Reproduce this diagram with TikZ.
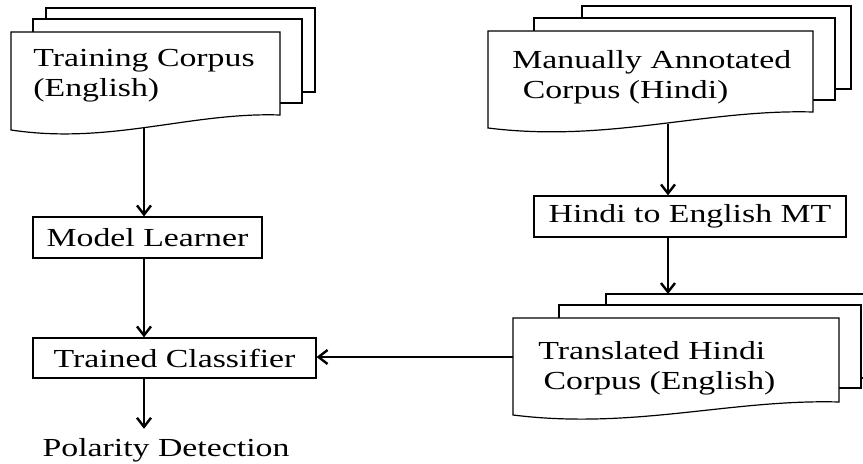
\documentclass[tikz,border=0pt]{standalone}
\usepackage{fontspec}
\setmainfont{Liberation Serif}
\usetikzlibrary{arrows.meta}
\tikzset{>={Straight Barb[length=4.5pt,width=7pt]}}
\newcommand{\wide}[1]{\scalebox{1.3}[1]{#1}}

\begin{document}
\begin{tikzpicture}[x=0.5pt, y=-0.5pt,
		sheet/.style={draw, fill=white, line width=0.6pt},
		box/.style={draw, line width=0.6pt, inner sep=0pt},
		flow/.style={->, line width=1.2pt},
		lbl/.style={inner sep=0pt, font=\fontsize{13}{15}\selectfont}]
		% page area
		\clip (0,0) rectangle (863,464);
		\fill[white] (0,0) rectangle (863,464);

		% training corpus stack
		\draw[sheet] (46,8) rectangle (315,92);
		\draw[sheet] (33,19) rectangle (302,103);
		\draw[sheet] (11,32) -- (280,32) -- (280,115) .. controls (190,112) and (110,145) .. (11,130) -- cycle;
		\node[lbl, anchor=base west] (train) at (33,97) {\wide{\begin{tabular}[b]{@{}l@{}}Training Corpus\\(English)\end{tabular}}};
		\coordinate (trainout) at (144,128);

		% annotated hindi stack
		\draw[sheet] (582,6) rectangle (851,89);
		\draw[sheet] (534,18) rectangle (835,100);
		\draw[sheet] (488,31) -- (813,31) -- (813,112) .. controls (705,109) and (608,143) .. (488,128) -- cycle;
		\node[lbl, anchor=base west] (hindi) at (512,99) {\wide{\begin{tabular}[b]{@{}l@{}}Manually Annotated\\\hspace{4pt}Corpus (Hindi)\end{tabular}}};
		\coordinate (hindiout) at (668,124);

		% translation step
		\node[box, lbl, draw, minimum width=156pt, minimum height=20.5pt] (mt) at (690,216.5) {\wide{Hindi to English MT}};

		% translated stack
		\draw[sheet] (606,294) rectangle (932,378);
		\draw[sheet] (559,305) rectangle (861,388);
		\draw[sheet] (513,318) -- (839,318) -- (839,402) .. controls (731,399) and (633,430) .. (513,415) -- cycle;
		\node[lbl, anchor=base west] (trans) at (538,390) {\wide{\begin{tabular}[b]{@{}l@{}}Translated Hindi\\\hspace{2pt}Corpus (English)\end{tabular}}};
		\coordinate (transin) at (668,294);
		\coordinate (transout) at (513,357);

		% left column
		\node[box, lbl, draw, minimum width=114.5pt, minimum height=20.5pt] (learner) at (147.5,237.5) {\wide{Model Learner}};
		\node[box, lbl, draw, minimum width=141.5pt, minimum height=20pt] (classifier) at (174.5,358) {\wide{Trained Classifier}};
		\node[lbl, inner ysep=4.5pt] (polarity) at (166,450) {\wide{Polarity Detection}};
		\coordinate (spine) at (144,0);

		% connectors
		\draw[flow] (trainout) -- (learner.north -| trainout);
		\draw[flow] (learner.south -| spine) -- (classifier.north -| spine);
		\draw[flow] (classifier.south -| spine) -- (polarity.north -| spine);
		\draw[flow] (hindiout) -- (mt.north -| hindiout);
		\draw[flow] (mt.south -| hindiout) -- (transin);
		\draw[flow] (transout) -- (classifier.east |- transout);
	\end{tikzpicture}
\end{document}
